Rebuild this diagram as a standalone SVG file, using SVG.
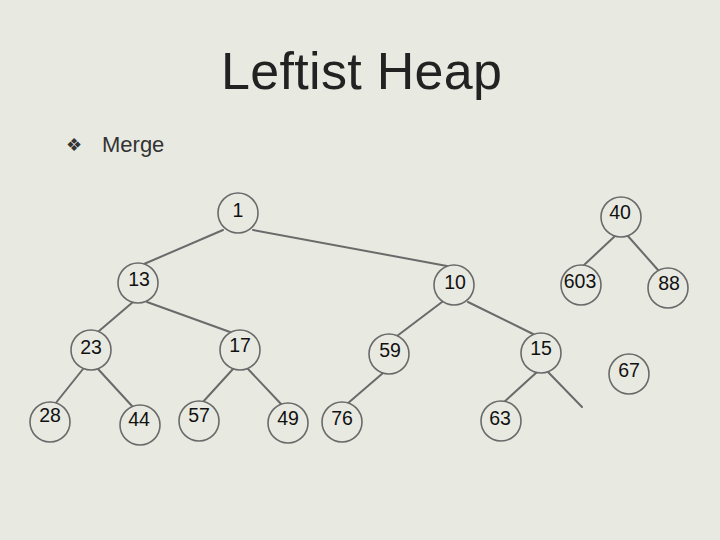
<svg xmlns="http://www.w3.org/2000/svg" width="720" height="540" viewBox="0 0 720 540">
<style>
.node circle{fill:#e8e9e1;stroke:#6a6a6a;stroke-width:1.6}
.node text{font-family:"Liberation Sans",Arial,sans-serif;font-size:19.5px;fill:#111;text-anchor:middle}
.edges line{stroke:#6a6a6a;stroke-width:2;stroke-linecap:round}
</style>
<rect width="720" height="540" fill="#e8e9e1"/>
<text x="361.5" y="89" font-family="Liberation Sans,Arial,sans-serif" font-size="52" fill="#222" text-anchor="middle" textLength="281" lengthAdjust="spacing">Leftist Heap</text>
<text x="74" y="151" font-family="DejaVu Sans,sans-serif" font-size="18" fill="#333" text-anchor="middle">❖</text>
<text x="102" y="152" font-family="Liberation Sans,Arial,sans-serif" font-size="22" fill="#333">Merge</text>
<g class="edges">
<line x1="223" y1="230" x2="144" y2="264"/>
<line x1="253" y1="230" x2="447" y2="266"/>
<line x1="133" y1="302" x2="99" y2="331"/>
<line x1="147" y1="302" x2="230" y2="332"/>
<line x1="83" y1="369" x2="55" y2="404"/>
<line x1="98" y1="369" x2="132" y2="406"/>
<line x1="233" y1="369" x2="202" y2="403"/>
<line x1="248" y1="369" x2="282" y2="405"/>
<line x1="442" y1="302" x2="397" y2="336"/>
<line x1="468" y1="302" x2="533" y2="334"/>
<line x1="383" y1="373" x2="347" y2="404"/>
<line x1="537" y1="372" x2="503" y2="403"/>
<line x1="548" y1="372" x2="582" y2="407"/>
<line x1="615" y1="236" x2="583" y2="266"/>
<line x1="627" y1="235" x2="658" y2="270"/>
</g>
<g id="n1" class="node"><circle cx="238" cy="213" r="20"/><text x="238" y="217">1</text></g>
<g id="n40" class="node"><circle cx="621" cy="217" r="20"/><text x="620" y="219">40</text></g>
<g id="n13" class="node"><circle cx="138" cy="283" r="20"/><text x="139" y="286">13</text></g>
<g id="n10" class="node"><circle cx="454" cy="285" r="20"/><text x="455" y="289">10</text></g>
<g id="n603" class="node"><circle cx="581" cy="285" r="20"/><text x="580" y="288">603</text></g>
<g id="n88" class="node"><circle cx="668" cy="288" r="20"/><text x="669" y="290">88</text></g>
<g id="n23" class="node"><circle cx="91" cy="350" r="20"/><text x="91" y="354">23</text></g>
<g id="n17" class="node"><circle cx="240" cy="350" r="20"/><text x="240" y="352">17</text></g>
<g id="n59" class="node"><circle cx="389" cy="354" r="20"/><text x="390" y="357">59</text></g>
<g id="n15" class="node"><circle cx="541" cy="353" r="20"/><text x="541" y="355">15</text></g>
<g id="n67" class="node"><circle cx="629" cy="374" r="20"/><text x="629" y="377">67</text></g>
<g id="n28" class="node"><circle cx="50" cy="422" r="20"/><text x="50" y="422">28</text></g>
<g id="n44" class="node"><circle cx="140" cy="425" r="20"/><text x="139" y="426">44</text></g>
<g id="n57" class="node"><circle cx="199" cy="421" r="20"/><text x="199" y="422">57</text></g>
<g id="n49" class="node"><circle cx="288" cy="423" r="20"/><text x="288" y="425">49</text></g>
<g id="n76" class="node"><circle cx="342" cy="422" r="20"/><text x="342" y="425">76</text></g>
<g id="n63" class="node"><circle cx="501" cy="421" r="20"/><text x="500" y="425">63</text></g>
</svg>
